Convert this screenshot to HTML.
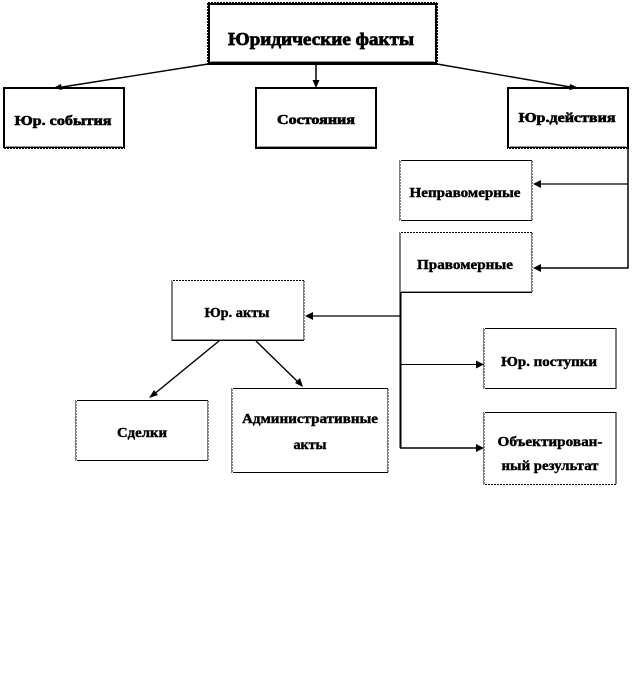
<!DOCTYPE html>
<html>
<head>
<meta charset="utf-8">
<style>
html,body{margin:0;padding:0;background:#fff;width:640px;height:688px;overflow:hidden}
svg{display:block}
text{font-family:"Liberation Serif",serif;font-weight:bold;fill:#000;text-anchor:middle}
.a{fill:#000;stroke:none}
</style>
</head>
<body>
<svg width="640" height="688" viewBox="0 0 640 688" xmlns="http://www.w3.org/2000/svg">
<rect width="640" height="688" fill="#fff"/>
<!-- boxes -->
<g fill="#fff" stroke="#000" shape-rendering="crispEdges">
<rect x="208.5" y="3.5" width="228" height="60" stroke-width="3"/>
<rect x="4" y="88" width="120" height="60" stroke-width="2"/>
<rect x="256" y="88" width="120" height="60" stroke-width="2"/>
<rect x="508" y="88" width="120" height="60" stroke-width="2"/>
<rect x="400" y="160.5" width="132" height="60" stroke-width="1"/>
<rect x="400" y="232.5" width="132" height="60" stroke-width="1"/>
<rect x="172" y="280.5" width="132" height="60" stroke-width="1"/>
<rect x="484" y="328.5" width="132" height="60" stroke-width="1"/>
<rect x="484" y="412.5" width="132" height="72" stroke-width="1"/>
<rect x="76" y="400.5" width="132" height="60" stroke-width="1"/>
<rect x="232" y="388.5" width="156" height="84" stroke-width="1"/>
</g>
<!-- grey inner bottom edges -->
<g stroke="#999" stroke-width="1" shape-rendering="crispEdges">
<line x1="211" y1="61.5" x2="434" y2="61.5"/>
<line x1="6" y1="146.5" x2="122" y2="146.5"/>
<line x1="258" y1="146.5" x2="374" y2="146.5"/>
<line x1="510" y1="146.5" x2="626" y2="146.5"/>
<line x1="401" y1="291.5" x2="531" y2="291.5"/>
<line x1="173" y1="339.5" x2="303" y2="339.5"/>
</g>
<!-- dotted edge breakup -->
<g stroke="#fff" stroke-width="1" stroke-dasharray="1 2" fill="none" shape-rendering="crispEdges">
<line x1="207" y1="2.5" x2="438" y2="2.5"/>
<line x1="207.5" y1="2" x2="207.5" y2="65"/>
<line x1="437.5" y1="2" x2="437.5" y2="65"/>
<line x1="3" y1="148.5" x2="125" y2="148.5"/>
<line x1="508" y1="148.5" x2="628" y2="148.5"/>
<line x1="400.5" y1="160" x2="400.5" y2="221"/>
<line x1="532.5" y1="160" x2="532.5" y2="221"/>
<line x1="400" y1="232.5" x2="533" y2="232.5"/>
<line x1="532.5" y1="232" x2="532.5" y2="293"/>
<line x1="172" y1="280.5" x2="305" y2="280.5"/>
<line x1="304.5" y1="280" x2="304.5" y2="341"/>
<line x1="484.5" y1="328" x2="484.5" y2="389"/>
<line x1="484.5" y1="412" x2="484.5" y2="485"/>
<line x1="484" y1="484.5" x2="617" y2="484.5"/>
<line x1="76.5" y1="400" x2="76.5" y2="461"/>
<line x1="208.5" y1="400" x2="208.5" y2="461"/>
<line x1="232.5" y1="388" x2="232.5" y2="473"/>
<line x1="388.5" y1="388" x2="388.5" y2="473"/>
</g>
<!-- connectors -->
<g stroke="#000" fill="none">
<line x1="208" y1="64" x2="56" y2="88" stroke-width="1.4"/>
<line x1="316" y1="65" x2="316" y2="82" stroke-width="1.5"/>
<line x1="437" y1="64" x2="576" y2="88" stroke-width="1.4"/>
<polyline points="628,148 628,268 540,268" stroke-width="1.5"/>
<line x1="628" y1="184" x2="540" y2="184" stroke-width="1.2"/>
<line x1="400.5" y1="292" x2="400.5" y2="448" stroke-width="2"/>
<line x1="400" y1="316" x2="312" y2="316" stroke-width="1.2"/>
<line x1="400" y1="364.5" x2="478" y2="364.5" stroke-width="1"/>
<line x1="400" y1="448" x2="478" y2="448" stroke-width="1.4"/>
<line x1="219" y1="341" x2="153" y2="395" stroke-width="1.4"/>
<line x1="256" y1="341" x2="299" y2="383" stroke-width="1.4"/>
</g>
<!-- arrowheads -->
<polygon class="a" points="53,88 61,84 62,90"/>
<polygon class="a" points="316,88 312.5,80 319.5,80"/>
<polygon class="a" points="579,88 570,84 569,90"/>
<polygon class="a" points="533,184 541,180 541,188"/>
<polygon class="a" points="533,268 541,264 541,272"/>
<polygon class="a" points="305,316 313,312 313,320"/>
<polygon class="a" points="484,364.5 476,360.5 476,368.5"/>
<polygon class="a" points="484,448 476,444 476,452"/>
<polygon class="a" points="149,398 154,390 158,395"/>
<polygon class="a" points="303,387 295,383 300,378"/>
<!-- labels -->
<text x="321" y="45" font-size="17.5" stroke="#000" stroke-width="0.7" textLength="186" lengthAdjust="spacingAndGlyphs">Юридические факты</text>
<text x="63" y="125" font-size="13.5" stroke="#000" stroke-width="0.6" textLength="97" lengthAdjust="spacingAndGlyphs">Юр. события</text>
<text x="316" y="124" font-size="13.5" stroke="#000" stroke-width="0.6" textLength="78" lengthAdjust="spacingAndGlyphs">Состояния</text>
<text x="567" y="122" font-size="13.5" stroke="#000" stroke-width="0.6" textLength="97" lengthAdjust="spacingAndGlyphs">Юр.действия</text>
<text x="465" y="197" font-size="13.5" stroke="#000" stroke-width="0.4" textLength="111" lengthAdjust="spacingAndGlyphs">Неправомерные</text>
<text x="465" y="269" font-size="13.5" stroke="#000" stroke-width="0.4" textLength="96" lengthAdjust="spacingAndGlyphs">Правомерные</text>
<text x="237" y="317" font-size="13.5" stroke="#000" stroke-width="0.4" textLength="65" lengthAdjust="spacingAndGlyphs">Юр. акты</text>
<text x="549" y="366" font-size="13.5" stroke="#000" stroke-width="0.4" textLength="96" lengthAdjust="spacingAndGlyphs">Юр. поступки</text>
<text x="550" y="446" font-size="13.5" stroke="#000" stroke-width="0.4" textLength="105" lengthAdjust="spacingAndGlyphs">Объектирован-</text>
<text x="550" y="470" font-size="13.5" stroke="#000" stroke-width="0.4" textLength="97" lengthAdjust="spacingAndGlyphs">ный результат</text>
<text x="142" y="437" font-size="13.5" stroke="#000" stroke-width="0.4" textLength="50" lengthAdjust="spacingAndGlyphs">Сделки</text>
<text x="310" y="423" font-size="13.5" stroke="#000" stroke-width="0.4" textLength="136" lengthAdjust="spacingAndGlyphs">Административные</text>
<text x="310" y="449" font-size="13.5" stroke="#000" stroke-width="0.4" textLength="33" lengthAdjust="spacingAndGlyphs">акты</text>
</svg>
</body>
</html>
